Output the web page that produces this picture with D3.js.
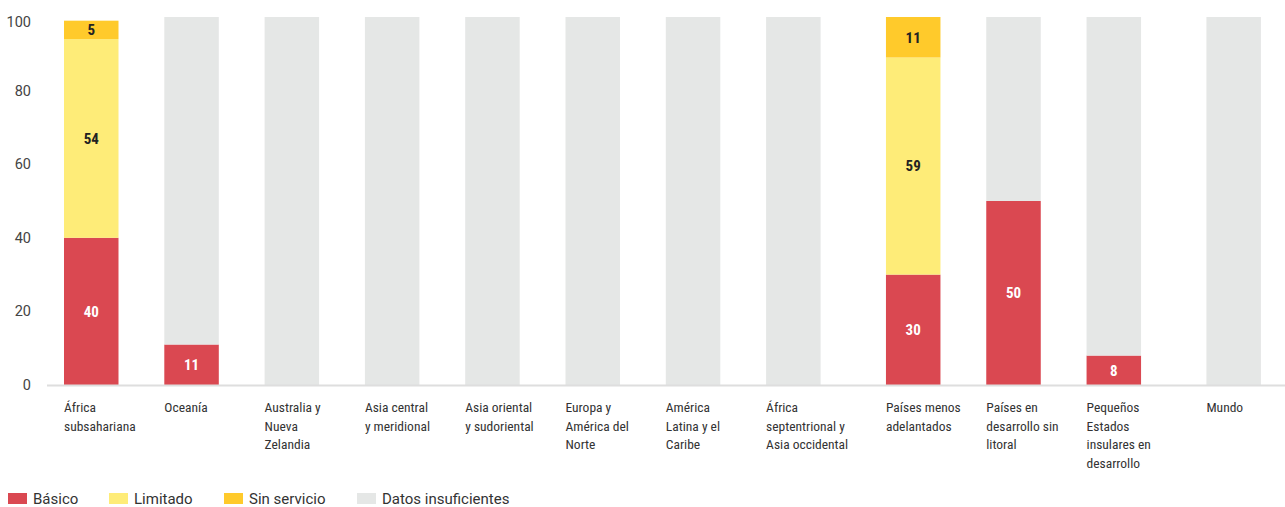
<!DOCTYPE html>
<html>
<head>
<meta charset="utf-8">
<script src="https://cdn.jsdelivr.net/npm/d3@7"></script>
<style>
  html, body { margin: 0; padding: 0; background: #fff; }
  svg { display: block; }
  .cond { font-family: "Roboto Condensed", "Liberation Sans Narrow", "DejaVu Sans Condensed", Roboto, sans-serif; }
</style>
</head>
<body>
<svg id="chart" width="1285" height="507"></svg>
<script>
// Regions and groups (0 = SDG regions, 1 = country groupings, 2 = world)
const categories = [
  "África subsahariana", "Oceanía", "Australia y Nueva Zelandia", "Asia central y meridional",
  "Asia oriental y sudoriental", "Europa y América del Norte", "América Latina y el Caribe",
  "África septentrional y Asia occidental", "Países menos adelantados",
  "Países en desarrollo sin litoral", "Pequeños Estados insulares en desarrollo", "Mundo"
];
const labelLines = [
  ["África", "subsahariana"], ["Oceanía"], ["Australia y", "Nueva", "Zelandia"],
  ["Asia central", "y meridional"], ["Asia oriental", "y sudoriental"],
  ["Europa y", "América del", "Norte"], ["América", "Latina y el", "Caribe"],
  ["África", "septentrional y", "Asia occidental"], ["Países menos", "adelantados"],
  ["Países en", "desarrollo sin", "litoral"], ["Pequeños", "Estados", "insulares en", "desarrollo"],
  ["Mundo"]
];
const groups = [0, 0, 0, 0, 0, 0, 0, 0, 1, 1, 1, 2];

// Service levels (%)
const basico       = [40, 11, 0, 0, 0, 0, 0, 0, 30, 50, 8, 0];
const limitado     = [54, 0, 0, 0, 0, 0, 0, 0, 59, 0, 0, 0];
const sinServicio  = [5, 0, 0, 0, 0, 0, 0, 0, 11, 0, 0, 0];
const insuficiente = [0, 89, 100, 100, 100, 100, 100, 100, 0, 50, 92, 100];

const seriesNames = ["Básico", "Limitado", "Sin servicio", "Datos insuficientes"];
const yTicks = [0, 20, 40, 60, 80, 100];

const colors = {
  "Básico": "#DA4851",
  "Limitado": "#FEEC78",
  "Sin servicio": "#FFCA2B",
  "Datos insuficientes": "#E5E7E6"
};
const labelColors = {
  "Básico": "#ffffff",
  "Limitado": "#222222",
  "Sin servicio": "#222222"
};

const svg = d3.select("#chart");

const rows = categories.map((c, i) => ({
  cat: c, group: groups[i], idx: i,
  "Básico": basico[i], "Limitado": limitado[i],
  "Sin servicio": sinServicio[i], "Datos insuficientes": insuficiente[i]
}));

// Slot position: index plus an extra gap between groups
const groupGap = 0.195;
const slot = d => d.idx + d.group * groupGap;
const x = d3.scaleLinear().domain([0, 1]).range([64, 164.3]);
const barW = 54.5;

const y = d3.scaleLinear().domain([0, 100]).range([385, 17]);

// Y axis labels
svg.append("g")
  .selectAll("text")
  .data(yTicks)
  .join("text")
  .attr("x", 31)
  .attr("y", d => Math.max(y(d), 22))
  .attr("dy", "0.35em")
  .attr("text-anchor", "end")
  .attr("font-family", "Roboto, sans-serif")
  .attr("font-size", 14.5)
  .attr("fill", "#444")
  .text(d => d);

// Stacked bars
const stack = d3.stack().keys(seriesNames);
const stacked = stack(rows);

const barG = svg.append("g");
stacked.forEach(layer => {
  barG.append("g")
    .attr("fill", colors[layer.key])
    .selectAll("rect")
    .data(layer.filter(s => s[1] - s[0] > 0))
    .join("rect")
    .attr("x", s => x(slot(s.data)))
    .attr("width", barW)
    .attr("y", s => y(s[1]))
    .attr("height", s => y(s[0]) - y(s[1]));
});

// Baseline
svg.append("line")
  .attr("x1", 47).attr("x2", 1285)
  .attr("y1", y(0) + 0.5).attr("y2", y(0) + 0.5)
  .attr("stroke", "#dedede")
  .attr("stroke-width", 2);

// Value labels
const labG = svg.append("g");
stacked.filter(l => l.key !== "Datos insuficientes").forEach(layer => {
  labG.selectAll(null)
    .data(layer.filter(s => s[1] - s[0] > 0))
    .join("text")
    .attr("class", "cond")
    .attr("x", s => x(slot(s.data)) + barW / 2)
    .attr("y", s => y((s[0] + s[1]) / 2))
    .attr("dy", "0.36em")
    .attr("text-anchor", "middle")
    .attr("font-size", 15)
    .attr("font-weight", "bold")
    .attr("fill", labelColors[layer.key])
    .text(s => s[1] - s[0]);
});

// Category labels
const catG = svg.append("g");
rows.forEach((d, i) => {
  const t = catG.append("text")
    .attr("class", "cond")
    .attr("x", x(slot(d)))
    .attr("y", 412)
    .attr("font-size", 13.5)
    .attr("fill", "#333");
  labelLines[i].forEach((ln, k) => {
    t.append("tspan")
      .attr("x", x(slot(d)))
      .attr("dy", k === 0 ? 0 : 18.5)
      .text(ln);
  });
});

// Legend
const legendX = [8, 109, 224, 357];
const lg = svg.append("g");
seriesNames.forEach((name, i) => {
  lg.append("rect")
    .attr("x", legendX[i]).attr("y", 493)
    .attr("width", 19).attr("height", 11)
    .attr("fill", colors[name]);
  lg.append("text")
    .attr("x", legendX[i] + 25).attr("y", 498.5)
    .attr("dy", "0.36em")
    .attr("font-family", "Roboto, sans-serif")
    .attr("font-size", 15)
    .attr("fill", "#333")
    .text(name);
});
</script>
</body>
</html>
